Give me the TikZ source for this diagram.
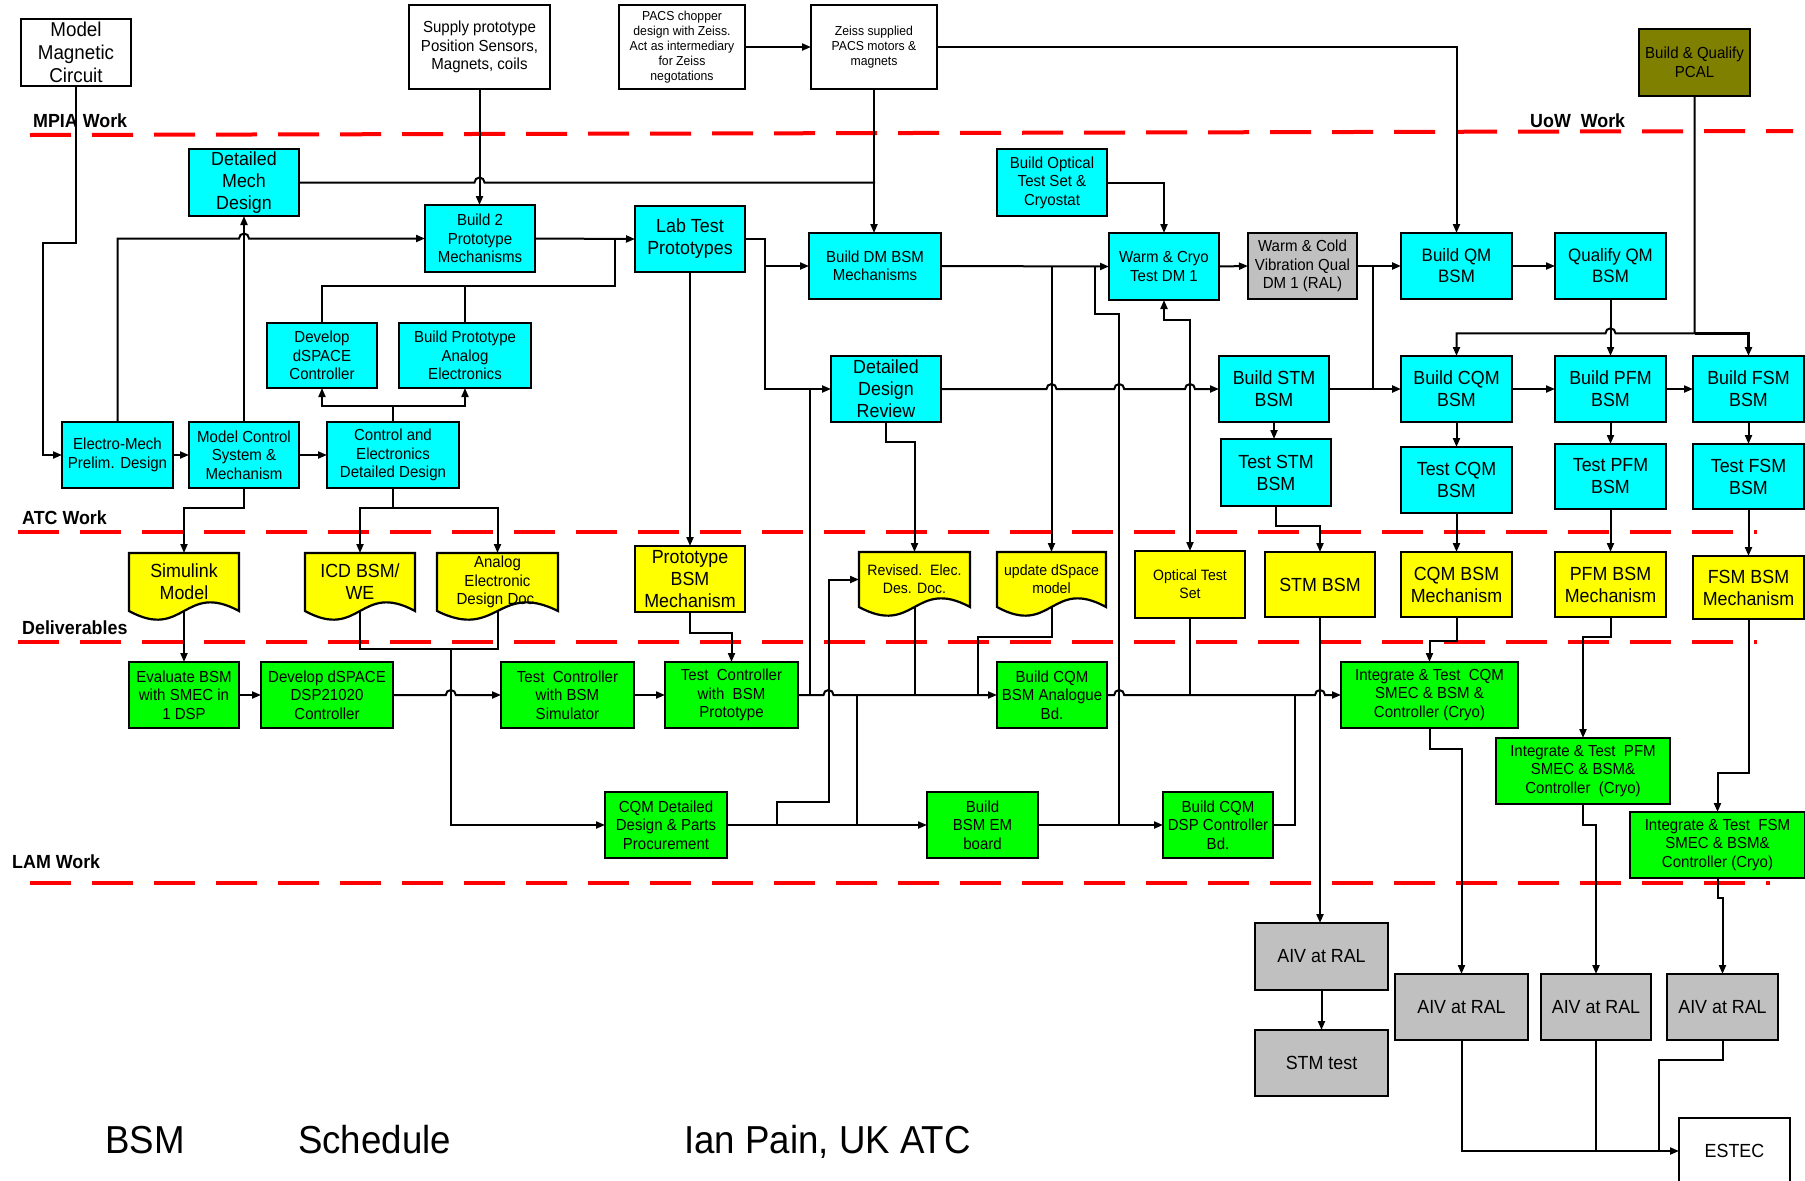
\documentclass[tikz,border=0pt]{standalone}
\usepackage{fontspec}
\setmainfont{Liberation Sans}[FakeStretch=0.94]
\usetikzlibrary{arrows.meta}
\definecolor{cy}{RGB}{0,255,255}
\definecolor{ye}{RGB}{255,255,0}
\definecolor{gr}{RGB}{0,255,0}
\definecolor{gy}{RGB}{192,192,192}
\definecolor{ol}{RGB}{128,128,0}
\definecolor{rd}{RGB}{255,0,0}
\tikzset{
 bx/.style={draw=black, line width=2.2pt, align=center, inner sep=0pt, outer sep=0pt},
 wbox/.style={bx, fill=white},
 cbox/.style={bx, fill=cy},
 ybox/.style={bx, fill=ye},
 gbox/.style={bx, fill=gr},
 gybox/.style={bx, fill=gy},
 obox/.style={bx, fill=ol},
 docline/.style={draw=black, fill=ye, line width=2.2pt},
 docnode/.style={align=center, inner sep=0pt, outer sep=0pt},
 f13/.style={font=\fontsize{13}{15}\selectfont},
 f15/.style={font=\fontsize{15}{18}\selectfont},
 f16/.style={font=\fontsize{16}{18.5}\selectfont},
 f18/.style={font=\fontsize{18}{21}\selectfont},
 f19/.style={font=\fontsize{19}{22}\selectfont},
 f20/.style={font=\fontsize{20}{23}\selectfont},
 fbig/.style={font=\fontsize{39}{44}\selectfont, inner sep=0pt, anchor=base west},
 lbl/.style={font=\fontsize{19}{22}\selectfont\bfseries, anchor=west, inner sep=0pt},
 ln/.style={line width=2pt, draw=black},
 arr/.style={ln, -{Triangle[length=9pt,width=7pt]}},
 barr/.style={ln, {Triangle[length=9pt,width=7pt]}-{Triangle[length=9pt,width=7pt]}},
 sepline/.style={draw=rd, line width=4pt, dash pattern=on 41pt off 21pt},
}
\newcommand\mybox[7]{\node[#6, minimum width={#4-#2}, minimum height={#5-#3}] (#1) at ({(#2+#4)/2},{(#3+#5)/2}) {#7};}
\newcommand\mydoc[7]{%
 \filldraw[docline] (#2,#3) -- (#4,#3) -- (#4,#5) .. controls ({(#2+#4)/2},{#5-30}) and ({(#2+#4)/2},{#5+30}) .. (#2,#5) -- cycle;
 \node[docnode,#6, minimum width={#4-#2}, minimum height={#5-#3}] (#1) at ({(#2+#4)/2},{(#3+#5)/2}) {#7};}
\begin{document}
\begin{tikzpicture}[x=1pt,y=-1pt]
\useasboundingbox (0,0) rectangle (1805,1181);
% separators
\draw[sepline] (30,135) -- (1793,131);
\draw[sepline] (18,531.7) -- (1757,531.7);
\draw[sepline] (18,641.7) -- (1757,641.7);
\draw[sepline] (30,883.3) -- (1770,883.3);
% labels
\node[lbl] (lmpia) at (33,121) {MPIA Work};
\node[lbl] (luow) at (1530,121) {UoW\ \ Work};
\node[lbl] (latc) at (22,518) {ATC Work};
\node[lbl] (ldel) at (22,628) {Deliverables};
\node[lbl] (llam) at (12,862) {LAM Work};
% white / olive
\mybox{mmc}{21}{19}{131}{86}{wbox,f20}{Model\\Magnetic\\Circuit}
\mybox{sup}{409}{5}{550}{89}{wbox,f16}{Supply prototype\\Position Sensors,\\Magnets, coils}
\mybox{pacs}{619}{5}{745}{89}{wbox,f13}{PACS chopper\\design with Zeiss.\\Act as intermediary\\for Zeiss\\negotations}
\mybox{zeiss}{811}{5}{937}{89}{wbox,f13}{Zeiss supplied\\PACS motors \&\\magnets}
\mybox{pcal}{1639}{29}{1750}{96}{obox,f16}{Build \& Qualify\\PCAL}
\mybox{estec}{1679}{1118}{1790}{1184}{wbox,f19}{ESTEC}
% cyan
\mybox{dmd}{189}{149}{299}{216}{cbox,f19}{Detailed\\Mech\\Design}
\mybox{b2p}{425}{205}{535}{272}{cbox,f16}{Build 2\\Prototype\\Mechanisms}
\mybox{lab}{635}{206}{745}{272}{cbox,f19}{Lab Test\\Prototypes}
\mybox{bdm}{809}{233}{941}{299}{cbox,f16}{Build DM BSM\\Mechanisms}
\mybox{bots}{997}{149}{1107}{216}{cbox,f16}{Build Optical\\Test Set \&\\Cryostat}
\mybox{wct}{1109}{233}{1219}{300}{cbox,f16}{Warm \& Cryo\\Test DM 1}
\mybox{vib}{1248}{233}{1357}{299}{gybox,f16}{Warm \& Cold\\Vibration Qual\\DM 1 (RAL)}
\mybox{bqm}{1401}{233}{1512}{299}{cbox,f18}{Build QM\\BSM}
\mybox{qqm}{1555}{233}{1666}{299}{cbox,f18}{Qualify QM\\BSM}
\mybox{dsc}{267}{323}{377}{388}{cbox,f16}{Develop\\dSPACE\\Controller}
\mybox{bpa}{399}{323}{531}{388}{cbox,f16}{Build Prototype\\Analog\\Electronics}
\mybox{emp}{62}{422}{173}{488}{cbox,f16}{Electro-Mech\\Prelim. Design}
\mybox{mcs}{189}{422}{299}{488}{cbox,f16}{Model Control\\System \&\\Mechanism}
\mybox{ced}{327}{422}{459}{488}{cbox,f16}{Control and\\Electronics\\Detailed Design}
\mybox{ddr}{831}{356}{941}{422}{cbox,f19}{Detailed\\Design\\Review}
\mybox{bstm}{1219}{356}{1329}{422}{cbox,f19}{Build STM\\BSM}
\mybox{bcqm}{1401}{356}{1512}{422}{cbox,f19}{Build CQM\\BSM}
\mybox{bpfm}{1555}{356}{1666}{422}{cbox,f19}{Build PFM\\BSM}
\mybox{bfsm}{1693}{356}{1804}{422}{cbox,f19}{Build FSM\\BSM}
\mybox{tstm}{1221}{439}{1331}{506}{cbox,f19}{Test STM\\BSM}
\mybox{tcqm}{1401}{447}{1512}{513}{cbox,f19}{Test CQM\\BSM}
\mybox{tpfm}{1555}{444}{1666}{509}{cbox,f19}{Test PFM\\BSM}
\mybox{tfsm}{1693}{444}{1804}{509}{cbox,f19}{Test FSM\\BSM}
% yellow
\mydoc{sim}{129}{553}{239}{611}{f19}{Simulink\\Model}
\mydoc{icd}{305}{553}{415}{611}{f19}{ICD BSM/\\WE}
\mydoc{aed}{437}{553}{558}{611}{f16}{Analog\\Electronic\\Design Doc.}
\mydoc{red}{859}{552}{970}{607}{f15}{Revised.\ \ Elec.\\Des. Doc.}
\mydoc{uds}{997}{552}{1106}{607}{f15}{update dSpace\\model}
\mybox{pbm}{635}{546}{745}{612}{ybox,f19}{Prototype\\BSM\\Mechanism}
\mybox{ots}{1135}{551}{1245}{618}{ybox,f15}{Optical Test\\Set}
\mybox{stmb}{1265}{552}{1375}{617}{ybox,f19}{STM BSM}
\mybox{cqmm}{1401}{552}{1512}{617}{ybox,f19}{CQM BSM\\Mechanism}
\mybox{pfmm}{1555}{552}{1666}{617}{ybox,f19}{PFM BSM\\Mechanism}
\mybox{fsmm}{1693}{556}{1804}{619}{ybox,f19}{FSM BSM\\Mechanism}
% green
\mybox{eval}{129}{662}{239}{728}{gbox,f16}{Evaluate BSM\\with SMEC in\\1 DSP}
\mybox{dds}{261}{662}{393}{728}{gbox,f16}{Develop dSPACE\\DSP21020\\Controller}
\mybox{tcs}{501}{662}{634}{728}{gbox,f16}{Test\ \ Controller\\with BSM\\Simulator}
\mybox{tcp}{665}{662}{798}{728}{gbox,f16}{Test\ \ Controller\\with\ \ BSM\\Prototype}
\mybox{bcab}{997}{662}{1107}{728}{gbox,f16}{Build CQM\\BSM Analogue\\Bd.}
\mybox{cdd}{605}{792}{727}{858}{gbox,f16}{CQM Detailed\\Design \& Parts\\Procurement}
\mybox{bem}{927}{792}{1038}{858}{gbox,f16}{Build\\BSM EM\\board}
\mybox{bdsp}{1163}{792}{1273}{858}{gbox,f16}{Build CQM\\DSP Controller\\Bd.}
\mybox{itc}{1341}{662}{1518}{728}{gbox,f16}{Integrate \& Test\ \ CQM\\SMEC \& BSM \&\\Controller (Cryo)}
\mybox{itp}{1496}{738}{1670}{804}{gbox,f16}{Integrate \& Test\ \ PFM\\SMEC \& BSM\&\\Controller\ \ (Cryo)}
\mybox{itf}{1630}{812}{1805}{878}{gbox,f16}{Integrate \& Test\ \ FSM\\SMEC \& BSM\&\\Controller (Cryo)}
% grey
\mybox{aiv1}{1255}{923}{1388}{990}{gybox,f19}{AIV at RAL}
\mybox{stmt}{1255}{1030}{1388}{1096}{gybox,f19}{STM test}
\mybox{aiv2}{1395}{974}{1528}{1040}{gybox,f19}{AIV at RAL}
\mybox{aiv3}{1541}{974}{1651}{1040}{gybox,f19}{AIV at RAL}
\mybox{aiv4}{1667}{974}{1778}{1040}{gybox,f19}{AIV at RAL}
% bottom text
\node[fbig] (t1) at (105,1153) {BSM};
\node[fbig] (t2) at (298,1153) {Schedule};
\node[fbig] (t3) at (684,1153) {Ian Pain, UK ATC};
% connectors
\draw[arr] (mmc.south) |- (42.7,243.3) |- (emp.west);
\draw[arr] (sup.south) -- (sup.south |- b2p.north);
\draw[ln] (dmd.east) -- (474.5,182.5) arc[start angle=180,end angle=360,radius=5] -- (875,182.5);
\draw[arr] (zeiss.south) -- (zeiss.south |- bdm.north);
\draw[arr] (pacs.east) -- (zeiss.west);
\draw[arr] (zeiss.east) -| (bqm.north);
\draw[arr] (emp.north) |- (239,238.5) arc[start angle=180,end angle=360,radius=5] -- (b2p.west);
\draw[arr] (mcs.north) -- (dmd.south);
\draw[arr] (b2p.east) -- (lab.west);
\draw[ln] (dsc.north) |- (615,285.7) -- (615,238.8);
\draw[ln] (bpa.north) -- (465,285.7);
\draw[arr] (ced.north) -- (393,405.7) -| (dsc.south);
\draw[arr] (393,405.7) -| (bpa.south);
\draw[arr] (emp.east) -- (mcs.west);
\draw[arr] (mcs.east) -- (ced.west);
\draw[arr] (mcs.south) |- (184,507.7) -- (sim.north);
\draw[arr] (ced.south) |- (360,507.7) -- (icd.north);
\draw[arr] (393,507.7) -| (aed.north);
\draw[arr] (sim.south) -- (eval.north);
\draw[ln] (icd.south) -- (360,649.3) -| (aed.south);
\draw[arr] (450.8,649.3) |- (cdd.west);
\draw[arr] (eval.east) -- (dds.west);
\draw[arr] (dds.east) -- (445.8,695) arc[start angle=180,end angle=360,radius=5] -- (tcs.west);
\draw[arr] (tcs.east) -- (tcp.west);
\draw[arr] (lab.south) -- (pbm.north);
\draw[arr] (pbm.south) |- (731.5,632.7) -- (tcp.north);
\draw[arr] (lab.east) -- (765.3,239) |- (ddr.west);
\draw[arr] (765.3,266) -- (bdm.west);
\draw[ln] (809.6,695) -- (809.6,389);
\draw[arr] (tcp.east) -- (823.5,695) arc[start angle=180,end angle=360,radius=5] -- (bcab.west);
\draw[arr] (777,825) |- (828.5,801.7) |- (red.west);
\draw[ln] (857.4,695) -- (857.4,825);
\draw[arr] (ddr.south) |- (914.5,441.7) -- (red.north);
\draw[ln] (red.south) -- (914.5,695);
\draw[arr] (bdm.east) -- (wct.west);
\draw[arr] (1051.5,266) -- (uds.north);
\draw[ln] (1095,266) |- (1119.2,314) -- (1119.2,825);
\draw[arr] (bots.east) -| (wct.north);
\draw[barr] (wct.south) |- (1190,320) -- (ots.north);
\draw[ln] (ots.south) -- (1190,695);
\draw[ln] (uds.south) |- (977.6,637.3) -- (977.6,695);
\draw[arr] (ddr.east) -- (1046.5,389) arc[start angle=180,end angle=360,radius=5] -- (1114.2,389) arc[start angle=180,end angle=360,radius=5] -- (1185,389) arc[start angle=180,end angle=360,radius=5] -- (bstm.west);
\draw[arr] (wct.east) -- (vib.west);
\draw[arr, line width=2.6pt] (vib.east) -- (bqm.west);
\draw[ln] (1373,266) -- (1373,389);
\draw[arr] (bqm.east) -- (qqm.west);
\draw[arr, line width=2.6pt] (bstm.east) -- (bcqm.west);
\draw[arr] (bcqm.east) -- (bpfm.west);
\draw[arr] (bpfm.east) -- (bfsm.west);
\draw[arr] (qqm.south) -- (bpfm.north);
\draw[arr] (pcal.south) |- (1615.5,333.3) arc[start angle=0,end angle=-180,radius=5] -| (bcqm.north);
\draw[arr, line width=2.6pt] (1694.5,333.3) -| (bfsm.north);
\draw[arr] (bstm.south) -- (bstm.south |- tstm.north);
\draw[arr] (bcqm.south) -- (tcqm.north);
\draw[arr] (bpfm.south) -- (tpfm.north);
\draw[arr] (bfsm.south) -- (tfsm.north);
\draw[arr] (tstm.south) |- (1320,525.7) -- (stmb.north);
\draw[arr] (tcqm.south) -- (cqmm.north);
\draw[arr] (tpfm.south) -- (pfmm.north);
\draw[arr] (tfsm.south) -- (fsmm.north);
\draw[arr] (stmb.south) -- (stmb.south |- aiv1.north);
\draw[arr] (cqmm.south) |- (1429.5,640.7) -- (itc.north);
\draw[arr] (pfmm.south) |- (1583,637.3) -- (itp.north);
\draw[arr] (fsmm.south) |- (1717.5,773.3) -- (itf.north);
\draw[arr] (itc.south) |- (1461.5,749) -- (aiv2.north);
\draw[arr] (itp.south) |- (1596,825) -- (aiv3.north);
\draw[arr] (itf.south) |- (1722.5,897.7) -- (aiv4.north);
\draw[arr] (aiv1.south) -- (stmt.north);
\draw[arr] (aiv2.south) |- (estec.west);
\draw[ln] (aiv3.south) -- (1596,1151);
\draw[ln] (aiv4.south) |- (1659,1060) -- (1659,1151);
\draw[arr] (bcab.east) -- (1114.2,695) arc[start angle=180,end angle=360,radius=5] -- (1315,695) arc[start angle=180,end angle=360,radius=5] -- (itc.west);
\draw[ln] (bdsp.east) -| (1295.3,695);
\draw[arr] (cdd.east) -- (bem.west);
\draw[arr] (bem.east) -- (bdsp.west);
\end{tikzpicture}
\end{document}
